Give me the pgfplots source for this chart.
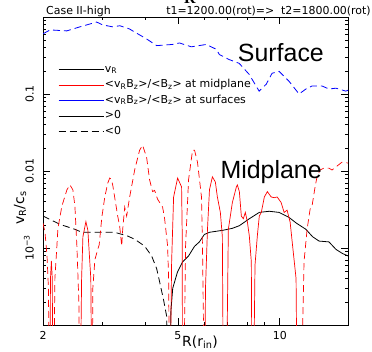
\documentclass[border=0pt]{standalone}
\usepackage{pgfplots}
\pgfplotsset{compat=1.18}
\usepackage{fontspec}
\setmainfont{DejaVu Sans}
\newfontfamily\helv{Liberation Sans}
\newfontfamily\tms{Liberation Serif}
\newcommand{\sm}{\fontsize{11}{13}\selectfont}
\newcommand{\lab}{\fontsize{14}{16}\selectfont}
\begin{document}
\begin{tikzpicture}
\useasboundingbox (-43bp,-27bp) rectangle (329bp,325bp);
\begin{axis}[
  at={(0,0)}, anchor=south west, scale only axis,
  width=305bp, height=308bp,
  xmode=log, ymode=log,
  xmin=2, xmax=15.9, ymin=1e-4, ymax=1,
  xtick={2,5,10}, xticklabels={2,5,10},
  minor xtick={3,4,6,7,8,9},
  ytick={1e-4,1e-3,1e-2,1e-1,1},
  yticklabels={,10\textsuperscript{−3},0.01,0.1,},
  tick align=inside, xtick pos=both, ytick pos=both,
  major tick length=7bp, minor tick length=3.5bp,
  every tick/.style={black, line width=0.6bp},
  axis line style={black, line width=0.8bp},
  every tick label/.append style={font=\sm},
  xticklabel style={anchor=north, inner xsep=0pt, inner ysep=6bp},
  yticklabel style={rotate=90, anchor=south, inner xsep=0pt, inner ysep=9bp},
  legend style={at={(rel axis cs:0.049,0.851)}, anchor=north west, draw=none, fill=none,
    inner sep=0pt, row sep=2.5bp, font=\sm,
    nodes={inner sep=1bp, text height=8bp, text depth=3bp}},
  legend cell align=left,
  legend image code/.code={\draw[#1] (0bp,0bp) -- (45bp,0bp);},
]
\addlegendimage{black, line width=0.8bp}
\addlegendentry{v\textsubscript{R}}
\addlegendimage{red, line width=0.8bp}
\addlegendentry{<v\textsubscript{R}B\textsubscript{z}>/<B\textsubscript{z}> at midplane}
\addlegendimage{blue, line width=0.8bp}
\addlegendentry{<v\textsubscript{R}B\textsubscript{z}>/<B\textsubscript{z}> at surfaces}
\addlegendimage{black, line width=0.8bp}
\addlegendentry{>0}
\addlegendimage{black, line width=0.8bp, dash pattern=on 7bp off 4bp}
\addlegendentry{<0}

% surfaces (blue, negative -> dashed)
\addplot[blue, line width=0.8bp, dash pattern=on 7bp off 4bp, forget plot] coordinates {
(2.00,0.605) (2.10,0.68) (2.35,0.66) (2.57,0.745) (2.88,0.86) (3.00,0.79) (3.21,0.745)
(3.37,0.77) (3.60,0.70) (3.68,0.66) (4.04,0.52) (4.33,0.425) (4.82,0.44) (5.06,0.46)
(5.48,0.41) (6.07,0.44) (6.50,0.38) (6.63,0.326) (7.09,0.28) (7.59,0.25) (8.12,0.18)
(8.69,0.109) (9.12,0.134) (9.49,0.186) (9.95,0.197) (10.64,0.147) (11.40,0.10)
(11.94,0.116) (12.45,0.127) (13.33,0.127) (13.97,0.116) (14.65,0.119) (15.67,0.109) (15.9,0.112)};

% v_R negative (dashed)
\addplot[black, line width=0.8bp, dash pattern=on 7bp off 4bp, forget plot] coordinates {
(2.000,0.0026) (2.244,0.00203) (2.484,0.00175) (2.605,0.0016) (2.845,0.0016) (3.256,0.0016)
(3.557,0.00143) (3.729,0.0013) (3.99,0.00106) (4.184,0.00079) (4.33,0.00054) (4.415,0.00037)
(4.54,0.00021) (4.635,0.00013) (4.697,0.00001)};
% v_R positive (solid)
\addplot[black, line width=0.8bp, forget plot] coordinates {
(4.74,0.00001) (4.77,0.00015) (4.83,0.0003) (4.99,0.00049) (5.165,0.00066) (5.38,0.00079)
(5.60,0.00105) (5.79,0.0012) (5.99,0.0015) (6.2,0.0016) (6.8,0.0017) (7.24,0.0018)
(7.6,0.00195) (8.13,0.0024) (8.7,0.0029) (9.31,0.0030) (9.95,0.0029) (10.64,0.0025)
(11.2,0.0021) (11.94,0.00175) (12.5,0.0014) (13.06,0.00123) (13.97,0.0012) (14.65,0.00096)
(15.3,0.00085) (15.9,0.00079)};

% midplane, negative parts (dashed)
\addplot[red, line width=0.7bp, dash pattern=on 7bp off 4bp, forget plot] coordinates {
(2.000,0.0021) (2.027,0.0016) (2.055,0.0008) (2.075,0.0003) (2.090,0.00001)};
\addplot[red, line width=0.7bp, dash pattern=on 7bp off 4bp, forget plot] coordinates {
(2.150,0.00001) (2.168,0.0004) (2.198,0.00106) (2.213,0.0018) (2.274,0.0035) (2.353,0.0057)
(2.401,0.0066) (2.450,0.0057) (2.484,0.0035) (2.518,0.00106) (2.552,0.0002) (2.570,0.00001)};
\addplot[red, line width=0.7bp, dash pattern=on 7bp off 4bp, forget plot] coordinates {
(2.795,0.00001) (2.806,0.0003) (2.845,0.0007) (2.903,0.00097) (2.93,0.0011) (2.983,0.0025)
(3.044,0.0046) (3.107,0.0070) (3.148,0.0081) (3.180,0.0078) (3.212,0.0066) (3.323,0.0026)
(3.369,0.0019) (3.415,0.00106) (3.438,0.00175) (3.485,0.0034) (3.532,0.0026) (3.605,0.0046)
(3.729,0.0103) (3.857,0.0186) (3.936,0.0216) (4.044,0.0151) (4.127,0.0077) (4.212,0.0054)
(4.270,0.0056) (4.358,0.0043) (4.509,0.0034) (4.571,0.0024) (4.665,0.00106) (4.697,0.0004)
(4.729,0.00001)};
\addplot[red, line width=0.7bp, dash pattern=on 7bp off 4bp, forget plot] coordinates {
(5.20,0.00001) (5.271,0.00106) (5.379,0.0077) (5.527,0.0186) (5.603,0.0186) (5.716,0.013)
(5.873,0.0046) (5.913,0.00106) (5.994,0.00001)};
\addplot[red, line width=0.7bp, dash pattern=on 7bp off 4bp, forget plot] coordinates {
(11.56,0.00001) (11.79,0.00066) (12.04,0.00175) (12.29,0.0032) (12.45,0.0035) (12.71,0.0062)
(12.88,0.0084) (13.15,0.0103) (13.5,0.0109) (13.97,0.0109) (14.26,0.0103) (14.65,0.0113)
(15.25,0.013) (15.9,0.0127)};

% midplane, positive parts (solid)
\addplot[red, line width=0.7bp, forget plot] coordinates {
(2.096,0.00001) (2.104,0.0004) (2.117,0.00068) (2.130,0.0004) (2.139,0.00001)};
\addplot[red, line width=0.7bp, forget plot] coordinates {
(2.575,0.00001) (2.600,0.0004) (2.623,0.0014) (2.677,0.0022) (2.713,0.0017) (2.768,0.0004) (2.787,0.00001)};
\addplot[red, line width=0.7bp, forget plot] coordinates {
(4.74,0.00001) (4.794,0.00066) (4.859,0.0046) (4.993,0.0081) (5.130,0.0062) (5.150,0.0017) (5.165,0.00001)};
\addplot[red, line width=0.7bp, forget plot] coordinates {
(6.00,0.00001) (6.035,0.0003) (6.117,0.00175) (6.201,0.0057) (6.325,0.0084) (6.454,0.0072)
(6.543,0.0046) (6.677,0.0029) (6.768,0.0014) (6.815,0.00001)};
\addplot[red, line width=0.7bp, forget plot] coordinates {
(6.955,0.00001) (7.050,0.00175) (7.245,0.0039) (7.444,0.0062) (7.495,0.0066) (7.597,0.0054)
(7.701,0.0026) (7.806,0.0024) (7.913,0.0029) (8.021,0.0022) (8.130,0.00143) (8.241,0.00066) (8.28,0.00001)};
\addplot[red, line width=0.7bp, forget plot] coordinates {
(8.36,0.00001) (8.45,0.0006) (8.584,0.00143) (8.700,0.0026) (8.820,0.0029) (9.004,0.0046)
(9.190,0.0054) (9.432,0.0046) (9.625,0.0045) (9.824,0.0046) (10.09,0.0039) (10.30,0.0029)
(10.51,0.0031) (10.73,0.00216) (10.88,0.0012) (11.17,0.0004) (11.25,0.00001)};

\node[font=\helv\fontsize{25}{30}\selectfont] at (rel axis cs:0.78,0.883) {Surface};
\node[font=\helv\fontsize{25}{30}\selectfont] at (rel axis cs:0.748,0.497) {Midplane};
\end{axis}
\node[anchor=base west, font=\lab, inner sep=0pt] at (139bp,-21.5bp) {R(r\textsubscript{in})};
\node[anchor=base west, font=\lab, inner sep=0pt, rotate=90] at (-19bp,100bp) {v\textsubscript{R}/c\textsubscript{s}};
\node[anchor=base west, font=\sm, inner sep=0pt] at (3bp,310bp) {Case II-high};
\node[anchor=base east, font=\sm, inner sep=0pt] at (328bp,310bp) {t1=1200.00(rot)=>~~t2=1800.00(rot)};
\node[anchor=base, font=\tms\bfseries\fontsize{16}{18}\selectfont, inner sep=0pt] at (147bp,321bp) {R};
\end{tikzpicture}
\end{document}
